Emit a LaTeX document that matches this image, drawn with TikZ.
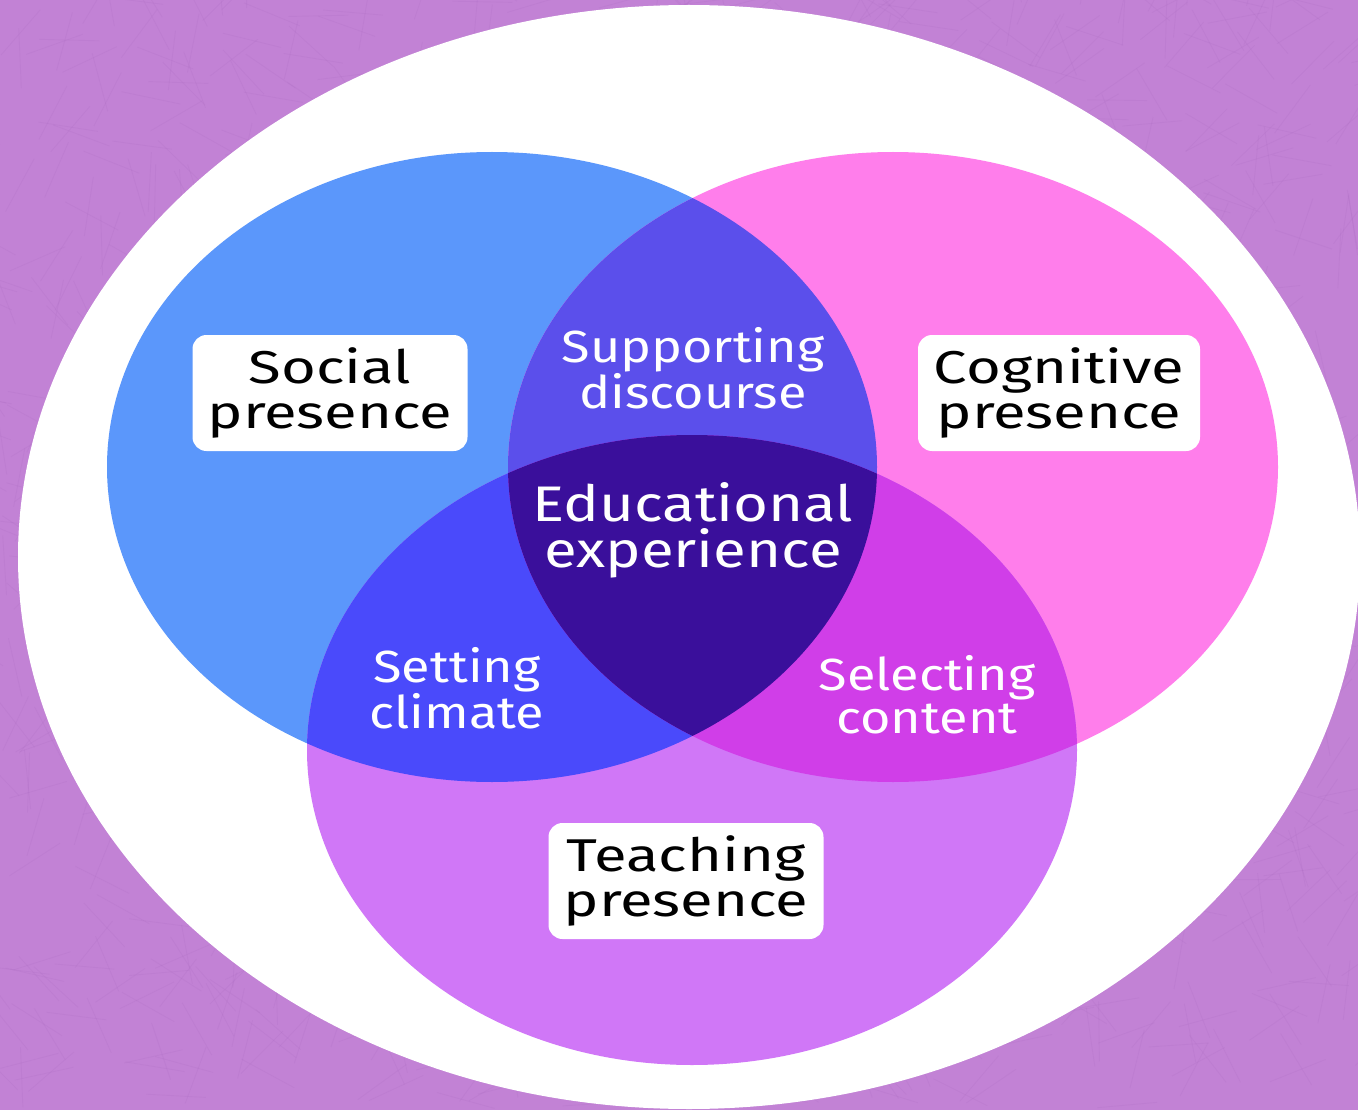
\documentclass[tikz,border=0pt]{standalone}
\usepackage{fontspec}
\setmainfont{Fira Sans}
\newfontfamily\blackfont[FakeStretch=1.3, Ligatures={NoCommon}]{Fira Sans}
\newfontfamily\whitefont[FakeStretch=1.16, Ligatures={NoCommon}]{Fira Sans}
\newfontfamily\edufont[FakeStretch=1.2, Ligatures={NoCommon}]{Fira Sans}
\definecolor{bgpurple}{HTML}{C282D5}
\definecolor{bgdark}{HTML}{A060B8}
\definecolor{cblue}{HTML}{5B97FB}
\definecolor{cpink}{HTML}{FF7EEB}
\definecolor{cviolet}{HTML}{D077F7}
\definecolor{cbp}{HTML}{5B4FEB}
\definecolor{cbv}{HTML}{4A4AFB}
\definecolor{cpv}{HTML}{D03EE8}
\definecolor{ccenter}{HTML}{3A0F9B}
\tikzset{
  labelbox/.style={fill=white, rounded corners=14pt, text=black, align=center,
    font=\blackfont\fontsize{46}{45}\selectfont, inner sep=0pt,
    minimum height=116pt},
  innertext/.style={text=white, align=center, font=\whitefont\fontsize{45}{43}\selectfont, inner sep=0pt},
  edutext/.style={text=white, align=center, font=\edufont\fontsize{50}{46}\selectfont, inner sep=0pt}
}
\begin{document}
\begin{tikzpicture}[x=1pt,y=-1pt]
\useasboundingbox (0,0) rectangle (1358,1110);
% background
\fill[bgpurple] (0,0) rectangle (1358,1110);
\pgfmathsetseed{7}
\foreach \i in {1,...,1600}{
  \pgfmathsetmacro{\px}{rnd*1358}
  \pgfmathsetmacro{\py}{rnd*1110}
  \pgfmathsetmacro{\ang}{rnd*180}
  \draw[bgdark, opacity=0.12, line width=0.9pt] (\px,\py) -- ++(\ang:60pt);
}
% white ellipse
\fill[white] (689,557) ellipse [x radius=671pt, y radius=552pt];
% circles
\fill[cblue] (492,467) ellipse [x radius=385pt, y radius=315pt];
\fill[cpink] (893,467) ellipse [x radius=385pt, y radius=315pt];
\fill[cviolet] (692,750) ellipse [x radius=385pt, y radius=315pt];
% pairwise intersections
\begin{scope}
  \clip (492,467) ellipse [x radius=385pt, y radius=315pt];
  \fill[cbp] (893,467) ellipse [x radius=385pt, y radius=315pt];
  \fill[cbv] (692,750) ellipse [x radius=385pt, y radius=315pt];
\end{scope}
\begin{scope}
  \clip (893,467) ellipse [x radius=385pt, y radius=315pt];
  \fill[cpv] (692,750) ellipse [x radius=385pt, y radius=315pt];
\end{scope}
\begin{scope}
  \clip (492,467) ellipse [x radius=385pt, y radius=315pt];
  \clip (893,467) ellipse [x radius=385pt, y radius=315pt];
  \fill[ccenter] (692,750) ellipse [x radius=385pt, y radius=315pt];
\end{scope}
% labels
\node[labelbox, minimum width=275pt] (social) at (330,393) {Social\\presence};
\node[labelbox, minimum width=282pt] (cognitive) at (1059,393) {Cognitive\\presence};
\node[labelbox, minimum width=275pt] (teaching) at (686,881) {Teaching\\presence};
\node[innertext] (support) at (693,368) {Supporting\\discourse};
\node[edutext] (edu) at (693,530) {Educational\\experience};
\node[innertext] (climate) at (457,688) {Setting\\climate};
\node[innertext] (content) at (927,695) {Selecting\\content};
\end{tikzpicture}
\end{document}
